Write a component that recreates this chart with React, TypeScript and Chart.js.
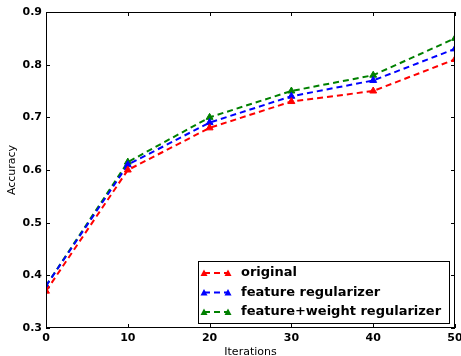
import React, { useEffect, useRef } from "react";
import { Chart, registerables } from "chart.js";

Chart.register(...registerables);

const iterations = [0, 10, 20, 30, 40, 50];
const original = [0.37, 0.6, 0.68, 0.73, 0.75, 0.81];
const featureReg = [0.38, 0.61, 0.69, 0.74, 0.77, 0.83];
const featureWeightReg = [0.38, 0.615, 0.7, 0.75, 0.78, 0.85];
const seriesLabels = ["original", "feature regularizer", "feature+weight regularizer"];
const seriesColors = ["#ff0000", "#0000ff", "#008000"];
const xTicks = [0, 10, 20, 30, 40, 50];
const yTicks = [0.3, 0.4, 0.5, 0.6, 0.7, 0.8, 0.9];

const FONT = "'DejaVu Sans', sans-serif";

const framePlugin = {
  id: "frame",
  afterDatasetsDraw(chart: any) {
    const { ctx, chartArea: a, scales } = chart;
    ctx.save();
    ctx.strokeStyle = "#000";
    ctx.lineWidth = 1;
    ctx.strokeRect(a.left + 0.5, a.top + 0.5, a.right - a.left - 1, a.bottom - a.top - 1);
    ctx.beginPath();
    for (const v of xTicks) {
      const x = Math.round(scales.x.getPixelForValue(v)) + 0.5;
      ctx.moveTo(x, a.bottom);
      ctx.lineTo(x, a.bottom - 4);
      ctx.moveTo(x, a.top);
      ctx.lineTo(x, a.top + 4);
    }
    for (const v of yTicks) {
      const y = Math.round(scales.y.getPixelForValue(v)) + 0.5;
      ctx.moveTo(a.left, y);
      ctx.lineTo(a.left + 4, y);
      ctx.moveTo(a.right, y);
      ctx.lineTo(a.right - 4, y);
    }
    ctx.stroke();
    ctx.restore();
  },
  afterDraw(chart: any) {
    const { ctx, chartArea: a } = chart;
    const w = 251;
    const h = 62;
    const x0 = a.right - 6 - w;
    const y0 = a.bottom - 5 - h;
    ctx.save();
    ctx.fillStyle = "#fff";
    ctx.fillRect(x0, y0, w, h);
    ctx.strokeStyle = "#000";
    ctx.lineWidth = 1;
    ctx.strokeRect(x0 + 0.5, y0 + 0.5, w, h);
    ctx.font = `bold 13px ${FONT}`;
    ctx.textBaseline = "middle";
    chart.data.datasets.forEach((ds: any, i: number) => {
      const y = y0 + 12 + i * 19.5;
      ctx.strokeStyle = ds.borderColor;
      ctx.lineWidth = 2;
      ctx.setLineDash([6, 4]);
      ctx.beginPath();
      ctx.moveTo(x0 + 6, y);
      ctx.lineTo(x0 + 30, y);
      ctx.stroke();
      ctx.setLineDash([]);
      ctx.fillStyle = ds.borderColor;
      for (const mx of [x0 + 6, x0 + 30]) {
        ctx.beginPath();
        ctx.moveTo(mx, y - 3.5);
        ctx.lineTo(mx + 3.5, y + 3);
        ctx.lineTo(mx - 3.5, y + 3);
        ctx.closePath();
        ctx.fill();
      }
      ctx.fillStyle = "#000";
      ctx.fillText(ds.label, x0 + 43, y);
    });
    ctx.restore();
  },
};

export default function App() {
  const ref = useRef<HTMLCanvasElement>(null);
  useEffect(() => {
    document.body.style.margin = "0";
    const series = [original, featureReg, featureWeightReg];
    const chart = new Chart(ref.current!, {
      type: "line",
      data: {
        datasets: series.map((vals, i) => ({
          label: seriesLabels[i],
          data: iterations.map((x, j) => ({ x, y: vals[j] })),
          borderColor: seriesColors[i],
          backgroundColor: seriesColors[i],
          borderWidth: 2,
          borderDash: [6, 4],
          pointStyle: "triangle",
          pointRadius: 4,
          pointBorderWidth: 1,
          fill: false,
          tension: 0,
        })),
      },
      options: {
        responsive: false,
        animation: false,
        layout: { padding: { top: 12, right: 6, left: 0, bottom: 0 } },
        plugins: { legend: { display: false }, tooltip: { enabled: false } },
        scales: {
          x: {
            type: "linear",
            min: 0,
            max: 50,
            grid: { display: false, drawTicks: false, tickLength: 0 },
            border: { display: false },
            ticks: {
              stepSize: 10,
              color: "#000",
              padding: 4,
              font: { family: FONT, size: 11, weight: "bold" },
            },
            title: {
              display: true,
              text: "Iterations",
              color: "#000",
              padding: { top: 0, bottom: -3 },
              font: { family: FONT, size: 11 },
            },
            afterFit: (s: any) => {
              s.height = 28;
              s.paddingLeft = 0;
              s.paddingRight = 0;
            },
          },
          y: {
            min: 0.3,
            max: 0.9,
            grid: { display: false, drawTicks: false, tickLength: 0 },
            border: { display: false },
            ticks: {
              stepSize: 0.1,
              color: "#000",
              padding: 4,
              font: { family: FONT, size: 11, weight: "bold" },
              callback: (v: any) => Number(v).toFixed(1),
            },
            title: {
              display: true,
              text: "Accuracy",
              color: "#000",
              padding: { top: 6, bottom: 0 },
              font: { family: FONT, size: 11 },
            },
            afterFit: (s: any) => {
              s.width = 46;
            },
          },
        },
      },
      plugins: [framePlugin],
    });
    return () => chart.destroy();
  }, []);
  return <canvas ref={ref} width={461} height={356} />;
}
